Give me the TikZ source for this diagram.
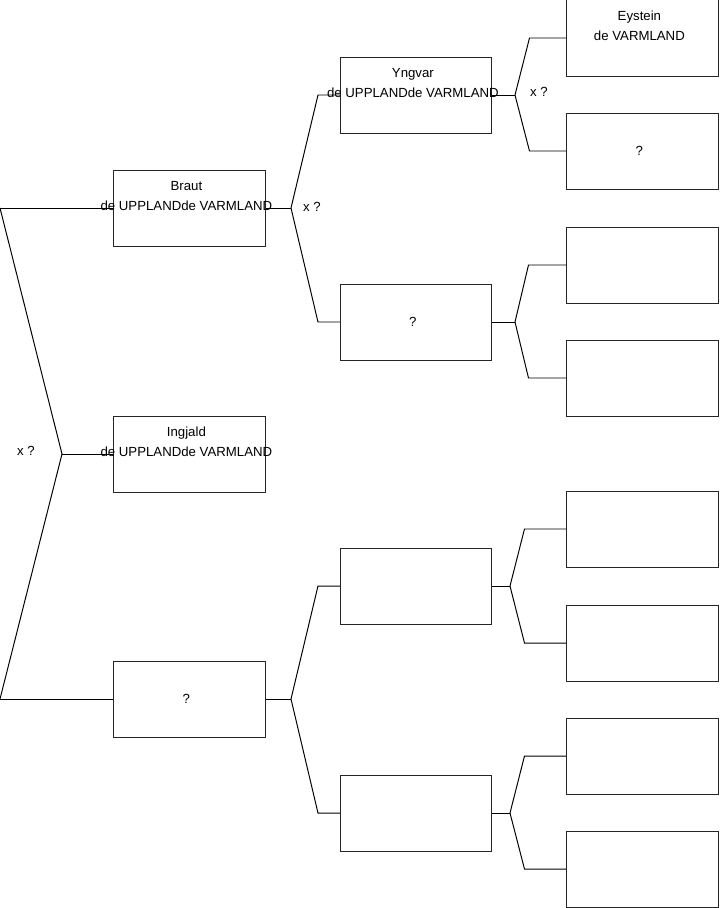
\documentclass[tikz,border=0pt]{standalone}
\usepackage{fontspec}
\setmainfont{Liberation Sans}
\usetikzlibrary{calc}
\tikzstyle{person} = [draw, rectangle, minimum width=3.775cm, minimum height=1.9cm, line width=0.7pt, draw=black!85, font=\fontsize{9.4}{14.2}\selectfont, inner sep=0pt]
\tikzstyle{who} = [anchor=north, align=center, inner sep=0pt, yshift=-8pt, xshift=-2.2pt, font=\fontsize{9.4}{14.2}\selectfont]
\tikzstyle{unknown} = [inner sep=0pt, xshift=-2.2pt, font=\fontsize{9.4}{14.2}\selectfont]
\tikzstyle{cross} = [font=\fontsize{9.4}{10}\selectfont, inner sep=0pt]
\tikzstyle{link} = [line width=0.7pt, color=black]

\begin{document}
\begin{tikzpicture}[x=0.025cm, y=-0.025cm]
    \useasboundingbox (0,0) rectangle (719,908);

    % first generation
    \node (braut) [person, label={[who]north:{Braut\\de UPPLANDde VARMLAND}}] at (189.5,208) {};
    \node (ingjald) [person, label={[who]north:{Ingjald\\de UPPLANDde VARMLAND}}] at (189.5,454) {};
    \node (q1) [person, label={[unknown]center:?}] at (189.5,699) {};

    % second generation
    \node (yngvar) [person, label={[who]north:{Yngvar\\de UPPLANDde VARMLAND}}] at (416,95) {};
    \node (q2) [person, label={[unknown]center:?}] at (416,322) {};
    \node (e1) [person] at (416,586) {};
    \node (e2) [person] at (416,813) {};

    % third generation
    \node (eystein) [person, label={[who]north:{Eystein\\de VARMLAND}}] at (642.5,38) {};
    \node (q3) [person, label={[unknown]center:?}] at (642.5,151) {};
    \node (e3) [person] at (642.5,265) {};
    \node (e4) [person] at (642.5,378) {};
    \node (e5) [person] at (642.5,529) {};
    \node (e6) [person] at (642.5,643) {};
    \node (e7) [person] at (642.5,756) {};
    \node (e8) [person] at (642.5,869) {};

    % branch points
    \coordinate (top) at (0,208);
    \coordinate (root) at (62,454);
    \coordinate (bot) at (0,699);
    \coordinate (fb) at (291,208);
    \coordinate (fq) at (291,699);
    \coordinate (fy) at (515,95);
    \coordinate (fq2) at (515,322);
    \coordinate (fe1) at (510,586);
    \coordinate (fe2) at (510,813);

    \node (x1) [cross] at (26,451) {x ?};
    \node (x2) [cross] at (312,207) {x ?};
    \node (x3) [cross] at (539,92) {x ?};

    % left side
    \draw [link] (top) -- (braut.west);
    \draw [link] (top) -- (root) -- (bot);
    \draw [link] (root) -- (ingjald.west);
    \draw [link] (bot) -- (q1.west);

    % forks
    \foreach \a/\f/\u/\d/\o in {braut/fb/yngvar/q2/22, q1/fq/e1/e2/22, yngvar/fy/eystein/q3/37, q2/fq2/e3/e4/38, e1/fe1/e5/e6/42, e2/fe2/e7/e8/42}{
        \draw [link] (\a.east) -- (\f);
        \draw [link] (\f) -- ($(\u.west)+(-\o,0)$) -- (\u.west);
        \draw [link] (\f) -- ($(\d.west)+(-\o,0)$) -- (\d.west);
    }
\end{tikzpicture}
\end{document}
